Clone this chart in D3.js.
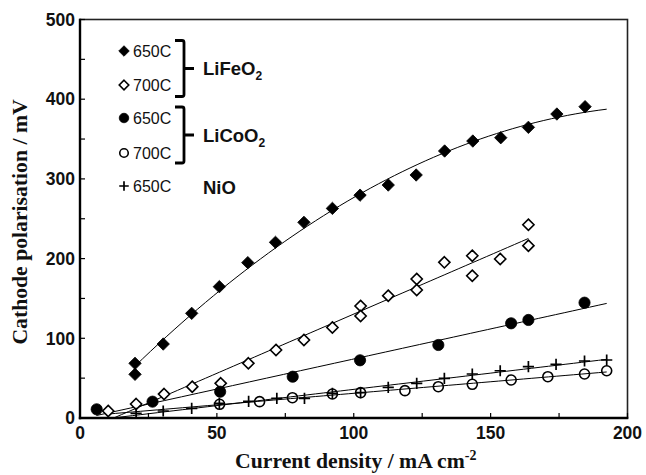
<!DOCTYPE html>
<html><head><meta charset="utf-8">
<script src="https://cdn.jsdelivr.net/npm/d3@7"></script>
<style>
html,body{margin:0;padding:0;background:#fff;}
svg{display:block;}
</style>
</head><body>
<svg id="chart" width="646" height="475"></svg>
<script>
// ---- data ----
const xTicks = [0, 50, 100, 150, 200];
const yTicks = [0, 100, 200, 300, 400, 500];

const fe650X = [20.1, 20.1, 30.4, 40.8, 50.9, 61.3, 71.4, 81.8, 92.2, 102.3, 112.6, 122.8, 133.2, 143.5, 153.7, 163.8, 174.2, 184.5];
const fe650Y = [68.6, 54.8, 92.8, 131.3, 164.8, 194.9, 220.4, 245.5, 263, 279.6, 292.3, 304.9, 335, 347.5, 351.7, 364.7, 381.4, 390.6];

const fe700X = [10.3, 20.5, 30.7, 41.0, 51.4, 61.5, 71.6, 81.8, 92.2, 102.5, 102.5, 112.6, 123, 123, 133.1, 143.3, 143.3, 153.5, 163.8, 163.8];
const fe700Y = [8.8, 17.5, 30, 39.3, 43.5, 68.6, 85.3, 97.9, 113.5, 140.5, 128, 153.5, 174.4, 160.6, 195.3, 203.6, 178.5, 199.5, 216.2, 242.5];

const co650X = [6.1, 26.5, 51.2, 77.7, 102.3, 130.9, 157.5, 163.8, 184.3];
const co650Y = [10.9, 20.5, 33, 51.8, 72.4, 91.6, 118.8, 123, 144.7];

const co700X = [51, 65.6, 77.6, 92.2, 102.5, 118.7, 130.9, 143.3, 157.5, 170.9, 184.3, 192.4];
const co700Y = [17.2, 20.5, 25.5, 30.1, 31.8, 34.3, 39.3, 42.3, 47.7, 51.8, 55.2, 59.3];

const nioX = [20.5, 30.4, 40.8, 50.9, 61.6, 71.9, 82, 92.2, 102.5, 112.6, 123, 133.1, 143.3, 153.5, 163.8, 173.9, 184.3, 192.4];
const nioY = [5.9, 8.8, 12.1, 18.4, 20.9, 24.7, 24.7, 31, 31.8, 38.5, 43.5, 49.8, 55.2, 59.3, 64.4, 67.4, 71.5, 72.8];

// trendline x-extent per series (data units) and fit order
const trendFrom = [20, 10, 6, 10, 10];
const trendTo   = [192.4, 163.8, 192.4, 192.4, 192.4];
const trendOrder = [2, 1, 1, 1, 1];

const seriesTemps = ["650C", "700C", "650C", "700C", "650C"];
const groupNames = ["LiFeO", "LiCoO", "NiO"];

// ---- layout ----
const W = 646, H = 475;
const L = 80, R = 627.5, T = 19.5, B = 418;
const svg = d3.select("#chart");
const x = d3.scaleLinear().domain([0, 200]).range([L, R]);
const y = d3.scaleLinear().domain([0, 500]).range([B, T]);

const series = [
  {xs: fe650X, ys: fe650Y, shape: "diamond", fill: true},
  {xs: fe700X, ys: fe700Y, shape: "diamond", fill: false},
  {xs: co650X, ys: co650Y, shape: "circle", fill: true},
  {xs: co700X, ys: co700Y, shape: "circle", fill: false},
  {xs: nioX,   ys: nioY,   shape: "plus",   fill: false}
];

// least-squares polynomial fit
function polyfit(xs, ys, order) {
  const n = order + 1;
  const A = Array.from({length: n}, () => new Array(n + 1).fill(0));
  xs.forEach((xv, k) => {
    for (let i = 0; i < n; i++) {
      for (let j = 0; j < n; j++) A[i][j] += Math.pow(xv, i + j);
      A[i][n] += ys[k] * Math.pow(xv, i);
    }
  });
  for (let i = 0; i < n; i++) {
    let p = i;
    for (let r = i + 1; r < n; r++) if (Math.abs(A[r][i]) > Math.abs(A[p][i])) p = r;
    [A[i], A[p]] = [A[p], A[i]];
    for (let r = 0; r < n; r++) {
      if (r === i) continue;
      const f = A[r][i] / A[i][i];
      for (let c = i; c <= n; c++) A[r][c] -= f * A[i][c];
    }
  }
  return A.map((row, i) => row[n] / row[i]);
}

// clip
svg.append("defs").append("clipPath").attr("id", "plotclip")
  .append("rect").attr("x", L).attr("y", T).attr("width", R - L).attr("height", B - T);

// frame: top and right thinner
svg.append("rect").attr("x", L).attr("y", T).attr("width", R - L).attr("height", B - T)
  .attr("fill", "none").attr("stroke", "#222").attr("stroke-width", 1.6);

// ticks inward
const g = svg.append("g");
d3.range(0, 201, 25).forEach(v => {
  g.append("line").attr("x1", x(v)).attr("x2", x(v)).attr("y1", B).attr("y2", B - 5)
    .attr("stroke", "#000").attr("stroke-width", 1.2);
});
d3.range(0, 501, 50).forEach(v => {
  g.append("line").attr("x1", L).attr("x2", L + 5).attr("y1", y(v)).attr("y2", y(v))
    .attr("stroke", "#000").attr("stroke-width", 1.2);
});

// heavy left and bottom axes
svg.append("line").attr("x1", L).attr("x2", L).attr("y1", T - 0.8).attr("y2", B + 1.2)
  .attr("stroke", "#000").attr("stroke-width", 2.4);
svg.append("line").attr("x1", L - 1.2).attr("x2", R + 0.8).attr("y1", B).attr("y2", B)
  .attr("stroke", "#000").attr("stroke-width", 2.4);

// tick labels
const tickFont = "'Liberation Sans', Arial, sans-serif";
svg.append("g").selectAll("text").data(xTicks).join("text")
  .attr("x", d => x(d)).attr("y", 438.5).attr("text-anchor", "middle")
  .attr("font-family", tickFont).attr("font-weight", "bold").attr("font-size", 17.5)
  .attr("fill", "#111").text(d => d);
svg.append("g").selectAll("text").data(yTicks).join("text")
  .attr("x", 75).attr("y", d => y(d) + 6.2).attr("text-anchor", "end")
  .attr("font-family", tickFont).attr("font-weight", "bold").attr("font-size", 17.5)
  .attr("fill", "#111").text(d => d);

// axis titles
const serif = "'Liberation Serif', 'Times New Roman', serif";
const xt = svg.append("text").attr("x", (L + R) / 2 + 2).attr("y", 468)
  .attr("text-anchor", "middle").attr("font-family", serif).attr("font-weight", "bold")
  .attr("font-size", 21.7).attr("fill", "#111");
xt.append("tspan").text("Current density / mA cm");
xt.append("tspan").attr("dy", -8).attr("font-size", 14).text("-2");

svg.append("text").attr("transform", `translate(27,222) rotate(-90)`)
  .attr("text-anchor", "middle").attr("font-family", serif).attr("font-weight", "bold")
  .attr("font-size", 21.7).attr("fill", "#111").text("Cathode polarisation / mV");

// trend lines
const plot = svg.append("g").attr("clip-path", "url(#plotclip)");
series.forEach((s, i) => {
  const coef = polyfit(s.xs, s.ys, trendOrder[i]);
  const f = v => coef.reduce((acc, c, k) => acc + c * Math.pow(v, k), 0);
  const steps = d3.range(0, 61).map(k => trendFrom[i] + (trendTo[i] - trendFrom[i]) * k / 60);
  plot.append("path").datum(steps)
    .attr("d", d3.line().x(v => x(v)).y(v => y(f(v))))
    .attr("fill", "none").attr("stroke", "#000").attr("stroke-width", 1);
});

// marker drawing
function drawMarker(sel, shape, fill, size) {
  const s = size || 1;
  if (shape === "diamond") {
    const r = (fill ? 6.2 : 5.6) * s;
    sel.append("path").attr("d", `M0,${-r}L${r},0L0,${r}L${-r},0Z`)
      .attr("fill", fill ? "#000" : "#fff").attr("stroke", "#000")
      .attr("stroke-width", fill ? 0.8 : 1.6);
  } else if (shape === "circle") {
    const r = (fill ? 5.6 : 5.0) * s;
    sel.append("circle").attr("r", r)
      .attr("fill", fill ? "#000" : "none").attr("stroke", "#000")
      .attr("stroke-width", fill ? 0.8 : 1.6);
  } else {
    const r = 5.6 * s;
    sel.append("path").attr("d", `M${-r},0H${r}M0,${-r}V${r}`)
      .attr("fill", "none").attr("stroke", "#000").attr("stroke-width", 1.7);
  }
}

const marks = svg.append("g");
series.forEach(s => {
  s.xs.forEach((xv, k) => {
    const m = marks.append("g").attr("transform", `translate(${x(xv)},${y(s.ys[k])})`);
    drawMarker(m, s.shape, s.fill);
  });
});

// legend
const legY = [51, 85, 118, 153, 186];
const leg = svg.append("g");
series.forEach((s, i) => {
  const m = leg.append("g").attr("transform", `translate(124,${legY[i]})`);
  drawMarker(m, s.shape, s.fill, 0.85);
  leg.append("text").attr("x", 133).attr("y", legY[i] + 5.8)
    .attr("font-family", tickFont).attr("font-size", 16).attr("fill", "#111")
    .text(seriesTemps[i]);
});
// brackets
function bracket(top, bot) {
  const mid = (top + bot) / 2;
  const xl = 175, xr = 184;
  leg.append("path")
    .attr("d", `M${xl},${top}H${xr - 2}Q${xr},${top} ${xr},${top + 2}V${bot - 2}Q${xr},${bot} ${xr - 2},${bot}H${xl}M${xr},${mid}H${xr + 10}`)
    .attr("fill", "none").attr("stroke", "#000").attr("stroke-width", 2.8);
}
bracket(40.5, 96.5);
bracket(107, 163);

const groupY = [68, 135, 187];
groupNames.forEach((nm, i) => {
  const t = leg.append("text").attr("x", 203).attr("y", groupY[i] + 7)
    .attr("font-family", tickFont).attr("font-weight", "bold").attr("font-size", 18.5)
    .attr("fill", "#111");
  t.append("tspan").text(nm);
  if (i < 2) t.append("tspan").attr("dy", 5).attr("font-size", 12).text("2");
});
</script>
</body></html>
